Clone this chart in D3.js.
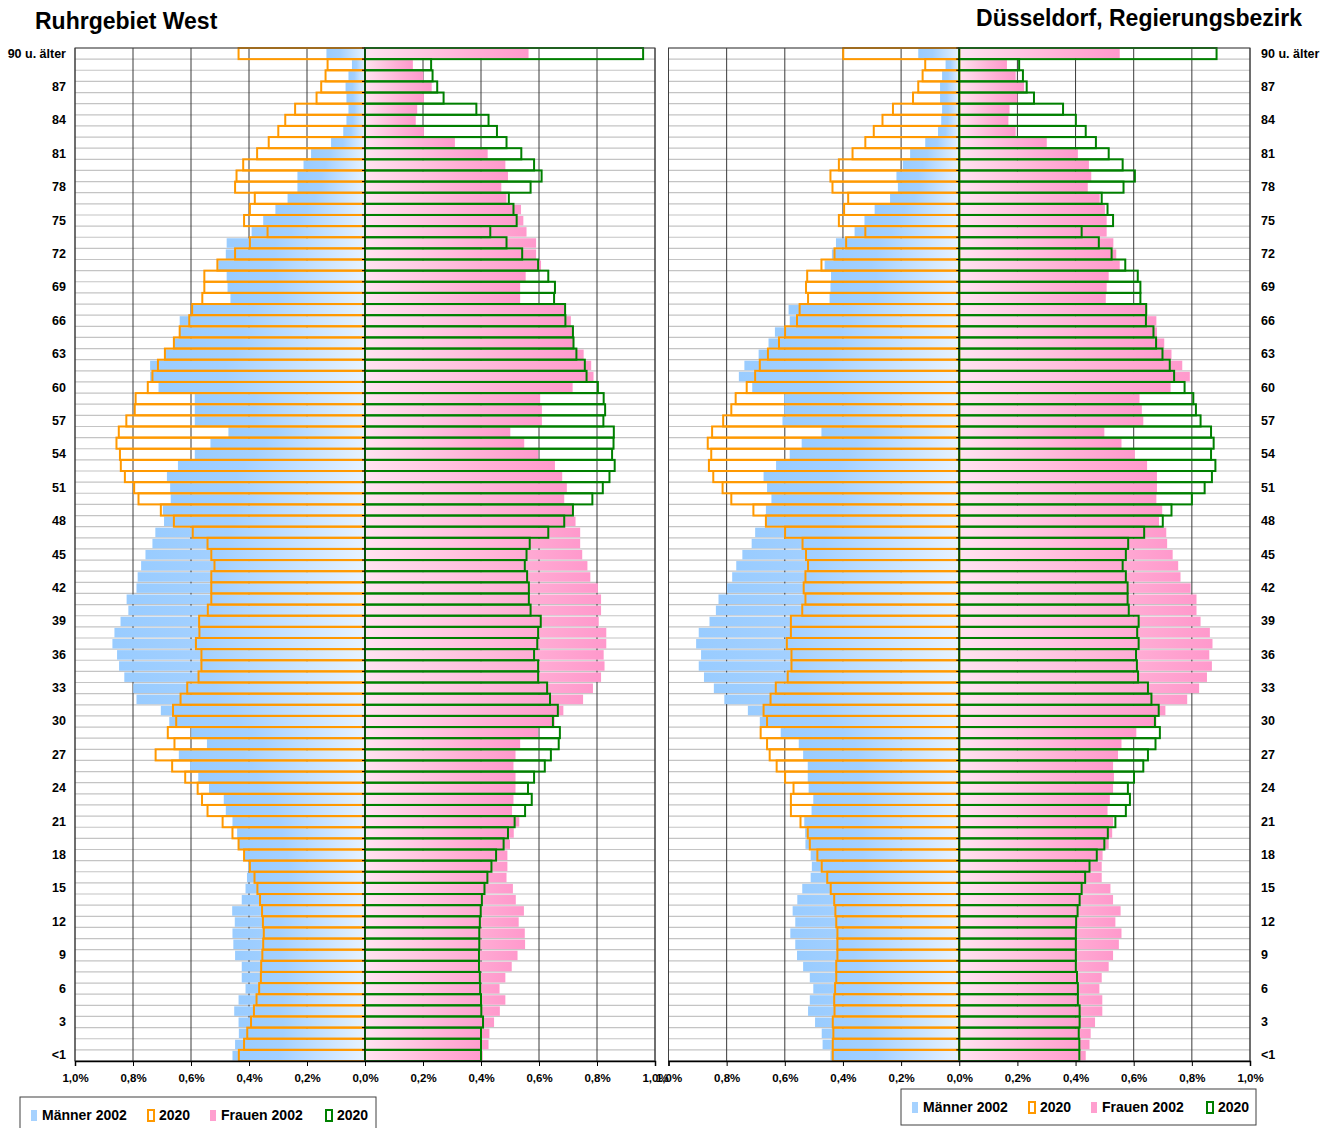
<!DOCTYPE html>
<html>

<head>
  <meta charset="utf-8">
  <title>Bevölkerungspyramiden</title>
  <script src="https://cdn.jsdelivr.net/npm/d3@7"></script>
  <style>
    body { margin: 0; background: #ffffff; }
    text { font-family: 'Liberation Sans', Arial, sans-serif; font-weight: bold; fill: #000; }
  </style>
</head>

<body>
  <svg width="1330" height="1128" id="mainsvg"></svg>
  <script>
    // ages 0 .. 90 (90 = "90 u. älter"), values in % of population
    const ages = d3.range(0, 91);
    const ageLabelAges = d3.range(0, 91, 3);
    const ageLabel = a => a === 0 ? '<1' : (a === 90 ? '90 u. älter' : String(a));
    const xTicks = [-1, -0.8, -0.6, -0.4, -0.2, 0, 0.2, 0.4, 0.6, 0.8, 1];

    // Ruhrgebiet West
    const ruhrMen2002 = [
      0.457, 0.448, 0.435, 0.436, 0.451, 0.436, 0.412, 0.425, 0.425, 0.448,
      0.454, 0.457, 0.449, 0.458, 0.425, 0.412, 0.407, 0.403, 0.414, 0.435,
      0.441, 0.457, 0.480, 0.487, 0.538, 0.575, 0.603, 0.642, 0.545, 0.599,
      0.675, 0.704, 0.788, 0.799, 0.830, 0.848, 0.855, 0.871, 0.864, 0.843,
      0.816, 0.822, 0.788, 0.784, 0.772, 0.757, 0.733, 0.723, 0.693, 0.697,
      0.670, 0.672, 0.683, 0.645, 0.587, 0.533, 0.471, 0.587, 0.587, 0.587,
      0.712, 0.741, 0.741, 0.693, 0.661, 0.639, 0.639, 0.593, 0.464, 0.474,
      0.477, 0.506, 0.480, 0.477, 0.391, 0.351, 0.309, 0.267, 0.233, 0.233,
      0.212, 0.186, 0.117, 0.075, 0.064, 0.057, 0.064, 0.067, 0.057, 0.045,
      0.133];
    const ruhrMen2020 = [
      0.435, 0.417, 0.406, 0.393, 0.383, 0.374, 0.365, 0.359, 0.358, 0.354,
      0.351, 0.349, 0.352, 0.355, 0.362, 0.371, 0.381, 0.397, 0.417, 0.436,
      0.457, 0.491, 0.543, 0.562, 0.577, 0.620, 0.665, 0.722, 0.657, 0.680,
      0.651, 0.662, 0.636, 0.613, 0.574, 0.564, 0.564, 0.583, 0.571, 0.572,
      0.542, 0.530, 0.530, 0.530, 0.519, 0.530, 0.543, 0.594, 0.659, 0.704,
      0.781, 0.796, 0.828, 0.842, 0.845, 0.857, 0.849, 0.823, 0.794, 0.791,
      0.749, 0.733, 0.714, 0.690, 0.659, 0.639, 0.606, 0.596, 0.561, 0.554,
      0.554, 0.509, 0.448, 0.397, 0.336, 0.417, 0.397, 0.380, 0.448, 0.443,
      0.420, 0.372, 0.332, 0.299, 0.275, 0.241, 0.167, 0.151, 0.136, 0.129,
      0.436];
    const ruhrWomen2002 = [
      0.406, 0.426, 0.429, 0.445, 0.465, 0.484, 0.464, 0.484, 0.506, 0.526,
      0.552, 0.551, 0.530, 0.548, 0.520, 0.510, 0.488, 0.491, 0.491, 0.500,
      0.513, 0.532, 0.507, 0.512, 0.519, 0.519, 0.512, 0.519, 0.535, 0.597,
      0.654, 0.684, 0.752, 0.786, 0.814, 0.826, 0.823, 0.832, 0.832, 0.806,
      0.814, 0.814, 0.803, 0.777, 0.767, 0.749, 0.742, 0.742, 0.726, 0.716,
      0.687, 0.696, 0.680, 0.655, 0.597, 0.549, 0.501, 0.610, 0.610, 0.604,
      0.716, 0.788, 0.780, 0.754, 0.719, 0.719, 0.710, 0.687, 0.535, 0.535,
      0.554, 0.607, 0.590, 0.590, 0.557, 0.546, 0.538, 0.488, 0.470, 0.493,
      0.484, 0.423, 0.310, 0.203, 0.175, 0.180, 0.203, 0.230, 0.201, 0.165,
      0.564];
    const ruhrWomen2020 = [
      0.400, 0.400, 0.400, 0.407, 0.401, 0.400, 0.397, 0.396, 0.393, 0.393,
      0.394, 0.394, 0.396, 0.399, 0.403, 0.412, 0.422, 0.436, 0.452, 0.478,
      0.493, 0.516, 0.552, 0.575, 0.562, 0.583, 0.620, 0.641, 0.668, 0.672,
      0.648, 0.665, 0.638, 0.628, 0.597, 0.597, 0.583, 0.594, 0.597, 0.606,
      0.571, 0.565, 0.565, 0.559, 0.551, 0.557, 0.568, 0.632, 0.687, 0.717,
      0.784, 0.820, 0.843, 0.861, 0.852, 0.857, 0.858, 0.822, 0.828, 0.823,
      0.803, 0.764, 0.758, 0.729, 0.719, 0.717, 0.691, 0.690, 0.652, 0.655,
      0.632, 0.597, 0.542, 0.488, 0.432, 0.523, 0.512, 0.496, 0.571, 0.609,
      0.583, 0.539, 0.488, 0.455, 0.426, 0.384, 0.271, 0.249, 0.233, 0.228,
      0.959];

    // Düsseldorf, Regierungsbezirk
    const dusMen2002 = [
      0.443, 0.470, 0.473, 0.496, 0.520, 0.514, 0.502, 0.514, 0.537, 0.558,
      0.564, 0.581, 0.564, 0.573, 0.557, 0.540, 0.511, 0.507, 0.511, 0.529,
      0.530, 0.533, 0.508, 0.502, 0.518, 0.521, 0.521, 0.537, 0.552, 0.614,
      0.686, 0.727, 0.808, 0.844, 0.878, 0.896, 0.888, 0.905, 0.896, 0.859,
      0.837, 0.828, 0.799, 0.781, 0.767, 0.746, 0.714, 0.702, 0.665, 0.665,
      0.646, 0.661, 0.673, 0.630, 0.583, 0.542, 0.474, 0.608, 0.602, 0.602,
      0.712, 0.758, 0.739, 0.690, 0.656, 0.634, 0.583, 0.587, 0.446, 0.443,
      0.441, 0.463, 0.438, 0.424, 0.360, 0.326, 0.291, 0.238, 0.211, 0.216,
      0.194, 0.169, 0.117, 0.073, 0.062, 0.059, 0.066, 0.066, 0.059, 0.047,
      0.141];
    const dusMen2020 = [
      0.435, 0.435, 0.433, 0.435, 0.429, 0.430, 0.427, 0.423, 0.423, 0.419,
      0.419, 0.419, 0.423, 0.426, 0.430, 0.442, 0.454, 0.473, 0.488, 0.514,
      0.521, 0.546, 0.579, 0.579, 0.570, 0.599, 0.628, 0.652, 0.661, 0.683,
      0.661, 0.673, 0.649, 0.631, 0.590, 0.577, 0.577, 0.593, 0.579, 0.579,
      0.540, 0.529, 0.535, 0.529, 0.520, 0.527, 0.539, 0.599, 0.665, 0.708,
      0.784, 0.814, 0.846, 0.861, 0.853, 0.865, 0.850, 0.812, 0.784, 0.769,
      0.731, 0.702, 0.686, 0.658, 0.620, 0.599, 0.558, 0.549, 0.520, 0.527,
      0.523, 0.474, 0.429, 0.389, 0.323, 0.414, 0.396, 0.382, 0.436, 0.443,
      0.414, 0.367, 0.323, 0.294, 0.264, 0.228, 0.159, 0.141, 0.126, 0.117,
      0.399];
    const dusWomen2002 = [
      0.435, 0.448, 0.452, 0.467, 0.492, 0.492, 0.482, 0.490, 0.514, 0.529,
      0.549, 0.558, 0.537, 0.555, 0.529, 0.520, 0.490, 0.490, 0.493, 0.514,
      0.526, 0.529, 0.510, 0.518, 0.529, 0.532, 0.529, 0.546, 0.558, 0.609,
      0.678, 0.709, 0.784, 0.825, 0.852, 0.869, 0.860, 0.871, 0.862, 0.830,
      0.816, 0.816, 0.796, 0.761, 0.753, 0.734, 0.715, 0.712, 0.687, 0.698,
      0.678, 0.680, 0.680, 0.646, 0.604, 0.558, 0.499, 0.633, 0.628, 0.620,
      0.727, 0.793, 0.767, 0.730, 0.705, 0.680, 0.678, 0.646, 0.504, 0.507,
      0.514, 0.552, 0.540, 0.530, 0.507, 0.507, 0.501, 0.483, 0.442, 0.454,
      0.446, 0.408, 0.301, 0.194, 0.169, 0.173, 0.200, 0.223, 0.194, 0.164,
      0.552];
    const dusWomen2020 = [
      0.413, 0.413, 0.411, 0.414, 0.414, 0.408, 0.408, 0.405, 0.401, 0.401,
      0.401, 0.401, 0.402, 0.407, 0.414, 0.421, 0.433, 0.448, 0.473, 0.499,
      0.511, 0.537, 0.573, 0.587, 0.580, 0.601, 0.633, 0.649, 0.675, 0.690,
      0.673, 0.686, 0.661, 0.649, 0.615, 0.611, 0.608, 0.617, 0.612, 0.617,
      0.583, 0.579, 0.579, 0.573, 0.562, 0.573, 0.581, 0.636, 0.700, 0.730,
      0.800, 0.844, 0.869, 0.881, 0.866, 0.875, 0.866, 0.830, 0.814, 0.805,
      0.775, 0.739, 0.724, 0.699, 0.677, 0.668, 0.642, 0.643, 0.623, 0.623,
      0.614, 0.571, 0.524, 0.480, 0.421, 0.529, 0.510, 0.490, 0.565, 0.604,
      0.562, 0.514, 0.470, 0.435, 0.401, 0.357, 0.257, 0.232, 0.219, 0.206,
      0.885];

    const legendNames = ['Männer 2002', '2020', 'Frauen 2002', '2020'];

    const svg = d3.select('#mainsvg');
    const plotTop = 48, plotBottom = 1061;

    // gradients for the 2002 bars
    const defs = svg.append('defs');
    const blue = defs.append('linearGradient').attr('id', 'gradBlue')
      .attr('x1', 0).attr('x2', 1).attr('y1', 0).attr('y2', 0);
    blue.append('stop').attr('offset', 0).attr('stop-color', '#99ccff');
    blue.append('stop').attr('offset', 0.35).attr('stop-color', '#a3d0ff');
    blue.append('stop').attr('offset', 1).attr('stop-color', '#e8f3ff');
    const pink = defs.append('linearGradient').attr('id', 'gradPink')
      .attr('x1', 0).attr('x2', 1).attr('y1', 0).attr('y2', 0);
    pink.append('stop').attr('offset', 0).attr('stop-color', '#ffe3f0');
    pink.append('stop').attr('offset', 0.65).attr('stop-color', '#ffb0d6');
    pink.append('stop').attr('offset', 1).attr('stop-color', '#ff99cc');

    const fmt = v => Math.abs(v).toFixed(1).replace('.', ',') + '%';

    const drawPyramid = function (cfg) {
      const xScale = d3.scaleLinear().domain([-1, 1]).range([cfg.x0, cfg.x1]);
      const yScale = d3.scaleBand().domain(ages.slice().reverse())
        .range([plotTop, plotBottom]).padding(0);
      const bw = yScale.bandwidth();
      const cx = xScale(0);
      const g = svg.append('g');

      // horizontal row lines
      g.selectAll('.hline').data(ages).join('line')
        .attr('x1', cfg.x0).attr('x2', cfg.x1)
        .attr('y1', d => yScale(d)).attr('y2', d => yScale(d))
        .attr('stroke', '#c4c4c4').attr('stroke-width', 1.2);

      // vertical gridlines
      g.selectAll('.vline').data(xTicks).join('line')
        .attr('x1', d => xScale(d)).attr('x2', d => xScale(d))
        .attr('y1', plotTop).attr('y2', plotBottom)
        .attr('stroke', '#3a3a3a').attr('stroke-width', 1);

      // 2002 bars
      g.selectAll('.m02').data(ages).join('rect')
        .attr('x', d => xScale(-cfg.m02[d])).attr('width', d => cx - xScale(-cfg.m02[d]))
        .attr('y', d => yScale(d) + 1).attr('height', bw - 1.6)
        .attr('fill', 'url(#gradBlue)');
      g.selectAll('.f02').data(ages).join('rect')
        .attr('x', cx).attr('width', d => xScale(cfg.f02[d]) - cx)
        .attr('y', d => yScale(d) + 1).attr('height', bw - 1.6)
        .attr('fill', 'url(#gradPink)');

      // 2020 outlines
      g.selectAll('.m20').data(ages).join('rect')
        .attr('x', d => xScale(-cfg.m20[d])).attr('width', d => cx - xScale(-cfg.m20[d]))
        .attr('y', d => yScale(d)).attr('height', bw)
        .attr('fill', 'none').attr('stroke', '#ff9900').attr('stroke-width', 2);
      g.selectAll('.f20').data(ages).join('rect')
        .attr('x', cx).attr('width', d => xScale(cfg.f20[d]) - cx)
        .attr('y', d => yScale(d)).attr('height', bw)
        .attr('fill', 'none').attr('stroke', '#008000').attr('stroke-width', 2);

      // centre axis with small ticks
      g.append('line').attr('x1', cx).attr('x2', cx).attr('y1', plotTop).attr('y2', plotBottom)
        .attr('stroke', '#0b3d0b').attr('stroke-width', 1.5);
      g.selectAll('.ctick').data(ages).join('line')
        .attr('x1', cx - 3).attr('x2', cx)
        .attr('y1', d => yScale(d)).attr('y2', d => yScale(d))
        .attr('stroke', '#000').attr('stroke-width', 1);

      // frame
      g.append('rect').attr('x', cfg.x0).attr('y', plotTop)
        .attr('width', cfg.x1 - cfg.x0).attr('height', plotBottom - plotTop)
        .attr('fill', 'none').attr('stroke', '#404040').attr('stroke-width', 1);

      // x axis
      const xAxis = d3.axisBottom(xScale).tickValues(xTicks).tickSize(5)
        .tickPadding(8).tickFormat(fmt);
      const xg = g.append('g').attr('transform', `translate(0, ${plotBottom})`).call(xAxis);
      xg.select('.domain').attr('stroke', '#000').attr('stroke-width', 1.5);
      xg.selectAll('.tick line').attr('stroke', '#000');
      xg.selectAll('.tick text').attr('font-size', 11.5)
        .attr('font-family', "'Liberation Sans', Arial, sans-serif").attr('font-weight', 'bold');

      // age labels
      g.selectAll('.alab').data(ageLabelAges).join('text')
        .attr('x', cfg.labelX).attr('y', d => yScale(d) + bw / 2 + 4)
        .attr('text-anchor', cfg.labelAnchor).attr('font-size', 12.5)
        .text(ageLabel);

      // title
      svg.append('text').attr('x', cfg.titleX).attr('y', cfg.titleY)
        .attr('text-anchor', cfg.titleAnchor).attr('font-size', 23)
        .text(cfg.title);

      // legend
      const lg = svg.append('g');
      lg.append('rect').attr('x', cfg.legend.x).attr('y', cfg.legend.y)
        .attr('width', cfg.legend.w).attr('height', cfg.legend.h)
        .attr('fill', '#fff').attr('stroke', '#404040').attr('stroke-width', 1);
      const ly = cfg.legend.y + cfg.legend.h / 2;
      const styles = [
        { fill: '#a6d2ff', stroke: 'none' },
        { fill: '#fff', stroke: '#ff9900' },
        { fill: '#ff9fcf', stroke: 'none' },
        { fill: '#fff', stroke: '#008000' }
      ];
      legendNames.forEach((name, i) => {
        const x = cfg.legend.x + cfg.legend.offsets[i];
        lg.append('rect').attr('x', x).attr('y', ly - 5).attr('width', 6).attr('height', 11)
          .attr('fill', styles[i].fill).attr('stroke', styles[i].stroke).attr('stroke-width', 2);
        lg.append('text').attr('x', x + 11).attr('y', ly + 5).attr('font-size', 14).text(name);
      });
    };

    drawPyramid({
      x0: 75, x1: 655, m02: ruhrMen2002, m20: ruhrMen2020, f02: ruhrWomen2002, f20: ruhrWomen2020,
      labelX: 66, labelAnchor: 'end',
      title: 'Ruhrgebiet West', titleX: 35, titleY: 29, titleAnchor: 'start',
      legend: { x: 20, y: 1097, w: 356, h: 36, offsets: [11, 128, 190, 306] }
    });
    drawPyramid({
      x0: 668.5, x1: 1250, m02: dusMen2002, m20: dusMen2020, f02: dusWomen2002, f20: dusWomen2020,
      labelX: 1261, labelAnchor: 'start',
      title: 'Düsseldorf, Regierungsbezirk', titleX: 1302, titleY: 26, titleAnchor: 'end',
      legend: { x: 901, y: 1089, w: 355, h: 36, offsets: [11, 128, 190, 306] }
    });
  </script>
</body>

</html>
